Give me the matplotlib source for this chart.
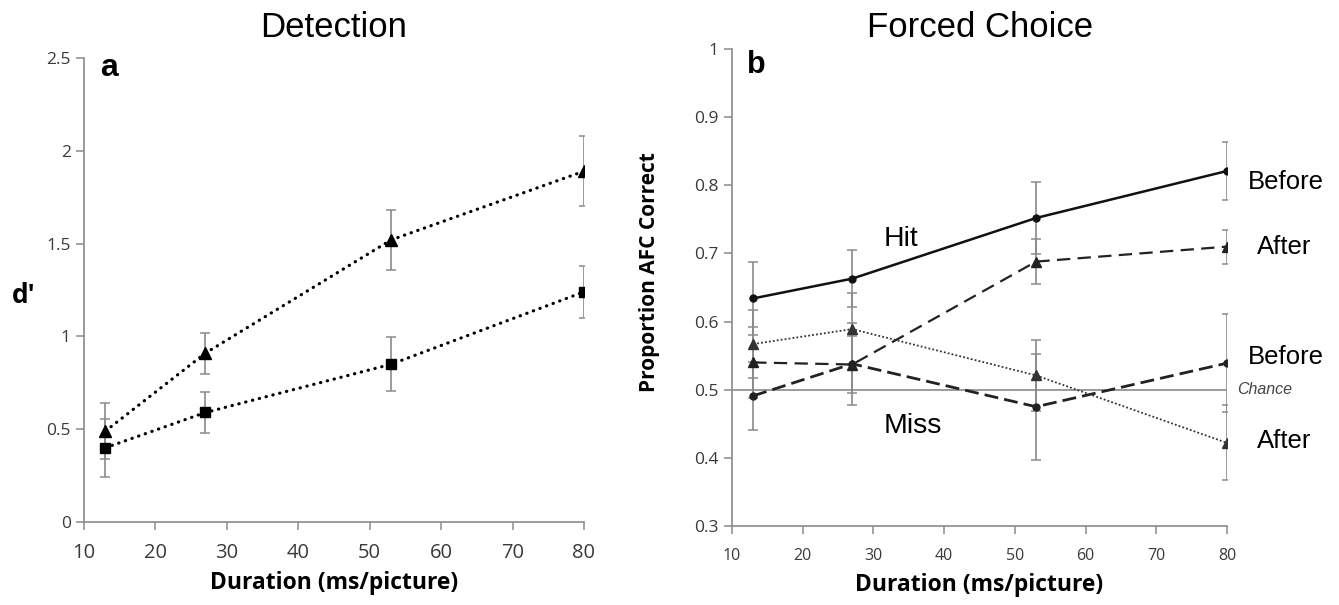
import matplotlib.pyplot as plt
import numpy as np

dur = [13, 27, 53, 80]

# panel a: d'
tri_a = [0.49, 0.91, 1.52, 1.89]
tri_a_err = [0.15, 0.11, 0.16, 0.19]
sq_a = [0.40, 0.59, 0.85, 1.24]
sq_a_err = [0.155, 0.11, 0.145, 0.14]

# panel b: proportion AFC correct
hit_before = [0.634, 0.663, 0.752, 0.821]
hit_before_err = [0.053, 0.042, 0.053, 0.043]
hit_after = [0.540, 0.537, 0.688, 0.710]
hit_after_err = [0.052, 0.042, 0.033, 0.025]
miss_before = [0.491, 0.538, 0.475, 0.539]
miss_before_err = [0.050, 0.060, 0.078, 0.072]
miss_after = [0.567, 0.589, 0.521, 0.422]
miss_after_err = [0.050, 0.053, 0.052, 0.055]

tickfont = 'Open Sans'
grey = '#8a8a8a'
W, H = 1339, 605

fig = plt.figure(figsize=(W/100, H/100), dpi=100)
axa = fig.add_axes([84/W, (H-522)/H, 500/W, 464/H])
axb = fig.add_axes([732/W, (H-526)/H, 495/W, 477/H])

for ax in (axa, axb):
    for s in ('top', 'right'):
        ax.spines[s].set_visible(False)
    for s in ('left', 'bottom'):
        ax.spines[s].set_color(grey)
        ax.spines[s].set_linewidth(1.2)
    ax.tick_params(direction='out', length=6, color=grey, width=1.1,
                   labelcolor='#3a3a3a')
    ax.set_xlim(10, 80)
    ax.set_xticks(range(10, 81, 10))

ebkw = dict(ecolor=grey, elinewidth=1.2, capsize=3.5, capthick=1.1)

# ---- panel a
axa.errorbar(dur, tri_a, yerr=tri_a_err, color='black', marker='^', ms=8,
             linestyle=(0, (0.1, 2.1)), lw=2.3, dash_capstyle='round', **ebkw)
axa.errorbar(dur, sq_a, yerr=sq_a_err, color='black', marker='s', ms=7.5,
             linestyle=(0, (0.1, 2.1)), lw=2.3, dash_capstyle='round', **ebkw)
axa.set_ylim(0, 2.5)
axa.set_yticks([0, 0.5, 1, 1.5, 2, 2.5])
axa.set_yticklabels(['0', '0.5', '1', '1.5', '2', '2.5'], fontfamily=tickfont, fontsize=12.5)
axa.tick_params(axis='x', pad=9)
for lab in axa.get_xticklabels():
    lab.set_fontfamily(tickfont)
    lab.set_fontsize(14.5)
axa.set_xlabel('Duration (ms/picture)', fontfamily=tickfont, fontweight='bold',
               fontsize=16.5, labelpad=6)
fig.text(12/W, 1-303/H, "d'", fontfamily=tickfont, fontweight='bold',
         fontsize=19, va='baseline', ha='left')
fig.text(100/W, 1-76/H, 'a', fontsize=23, fontweight='bold',
         fontfamily='Liberation Sans', va='baseline')

# ---- panel b
axb.axhline(0.5, color=grey, lw=1.2)
axb.errorbar(dur, hit_before, yerr=hit_before_err, color='#111111', marker='o',
             ms=5, linestyle='-', lw=1.8, **ebkw)
axb.errorbar(dur, hit_after, yerr=hit_after_err, color='#222222', marker='^',
             ms=6.5, linestyle=(0, (6, 3.3)), lw=1.6, **ebkw)
axb.errorbar(dur, miss_before, yerr=miss_before_err, color='#222222', marker='o',
             ms=5, linestyle=(0, (5, 2.2)), lw=2.0, **ebkw)
axb.errorbar(dur, miss_after, yerr=miss_after_err, color='#333333', marker='^',
             ms=6.5, linestyle=(0, (1, 1.2)), lw=1.3, **ebkw)
axb.set_ylim(0.3, 1.0)
axb.set_yticks(np.arange(3, 11) / 10)
axb.set_yticklabels(['0.3', '0.4', '0.5', '0.6', '0.7', '0.8', '0.9', '1'],
                    fontfamily=tickfont, fontsize=12.5)
axb.tick_params(axis='x', pad=10)
for lab in axb.get_xticklabels():
    lab.set_fontfamily(tickfont)
    lab.set_fontsize(11.5)
axb.set_xlabel('Duration (ms/picture)', fontfamily=tickfont, fontweight='bold',
               fontsize=16.5, labelpad=6)
axb.set_ylabel('Proportion AFC Correct', fontfamily=tickfont, fontweight='bold',
               fontsize=15)
axb.yaxis.set_label_coords(-0.145, 0.533)
fig.text(747/W, 1-73/H, 'b', fontsize=22, fontweight='bold',
         fontfamily='Liberation Sans', va='baseline')
axb.text(81.4, 0.5, 'Chance', fontstyle='italic', fontsize=11.5, color='#444444',
         fontfamily='Liberation Sans', va='center', ha='left', clip_on=False)

lbl = dict(fontfamily='Liberation Sans', va='baseline', ha='left', clip_on=False)
axb.text(31.4, 0.711, 'Hit', fontsize=20.5, **lbl)
axb.text(31.4, 0.436, 'Miss', fontsize=20.5, **lbl)
axb.text(83.0, 0.794, 'Before', fontsize=18.5, **lbl)
axb.text(84.3, 0.699, 'After', fontsize=18.5, **lbl)
axb.text(83.0, 0.538, 'Before', fontsize=18.5, **lbl)
axb.text(84.3, 0.414, 'After', fontsize=18.5, **lbl)

fig.text(334/W, 1-37/H, 'Detection', fontsize=25, fontfamily='Liberation Sans',
         ha='center', va='baseline')
fig.text(980/W, 1-37/H, 'Forced Choice', fontsize=25,
         fontfamily='Liberation Sans', ha='center', va='baseline')

fig.savefig('out.png', dpi=100)
